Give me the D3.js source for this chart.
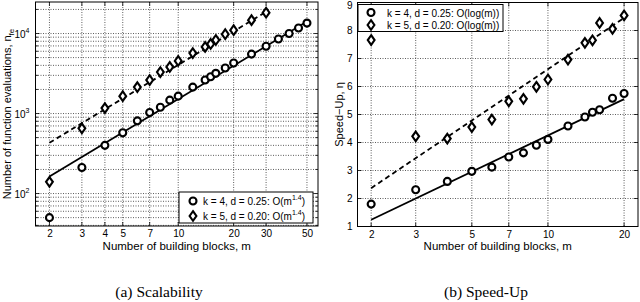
<!DOCTYPE html>
<html><head><meta charset="utf-8">
<script src="https://cdn.jsdelivr.net/npm/d3@7"></script>
<style>
body{margin:0;background:#fff;}
svg{display:block;}
text{font-family:"Liberation Sans",Arial,Helvetica,sans-serif;fill:#000;}
.cap{font-family:"Liberation Serif","DejaVu Serif",serif;}
</style></head>
<body>
<svg id="c" width="640" height="302"></svg>
<script>
// ---------- data ----------
const mScalA = [2,3,4,5,6,7,8,9,10,12,14,15,16,18,20,25,30,35,40,45,50];
const nfeA   = [50,212,400,575,810,1030,1200,1470,1650,2140,2620,2880,3180,3700,4280,5530,6940,8540,10000,11700,13500];
const mScalB = [2,3,4,5,6,7,8,9,10,12,14,15,16,18,20,25,30];
const nfeB   = [140,653,1170,1650,2140,2620,3300,3820,4540,5700,6800,7400,8300,9800,11000,14700,18200];
const fitScalA_m = [2,50], fitScalA_v = [163,14100];
const fitScalB_m = [2,30], fitScalB_v = [431,18700];

const mSpeed = [2,3,4,5,6,7,8,9,10,12,14,15,16,18,20];
const speedA = [1.80,2.31,2.61,2.97,3.12,3.48,3.63,3.90,4.11,4.59,4.91,5.08,5.17,5.58,5.75];
const speedB = [7.66,4.22,4.14,4.55,4.82,5.47,5.56,5.99,6.25,6.96,7.56,7.65,8.27,8.06,8.54];
const fitSpeedA_m = [2,20], fitSpeedA_v = [1.24,5.55];
const fitSpeedB_m = [2,20], fitSpeedB_v = [2.37,8.45];

const xTicksScal = [2,3,4,5,7,10,20,30,50];
const xTicksSpeed = [2,3,5,7,10,20];
const yTicksSpeed = [1,2,3,4,5,6,7,8,9];
const yDecades = [2,3,4];

const legendScal = ["k = 4, d = 0.25: O(m", "k = 5, d = 0.20: O(m"];
const legendScalExp = "1.4";
const legendSpeed = ["k = 4, d = 0.25: O(log(m))", "k = 5, d = 0.20: O(log(m))"];

// ---------- drawing ----------
const svg = d3.select("#c");

function gridLine(g, x1,y1,x2,y2){
  g.append("line").attr("x1",x1).attr("y1",y1).attr("x2",x2).attr("y2",y2)
   .attr("stroke","#333").attr("stroke-width",0.8).attr("stroke-dasharray","1,1.5");
}
function tickLine(g,x1,y1,x2,y2){
  g.append("line").attr("x1",x1).attr("y1",y1).attr("x2",x2).attr("y2",y2)
   .attr("stroke","#000").attr("stroke-width",0.8);
}
function circleMark(g, x, y){
  g.append("circle").attr("cx",x).attr("cy",y).attr("r",3.5)
   .attr("fill","#fff").attr("stroke","#000").attr("stroke-width",2.1);
}
function diamondMark(g, x, y){
  g.append("path").attr("d",`M${x},${y-4.8}L${x+3.4},${y}L${x},${y+4.8}L${x-3.4},${y}Z`)
   .attr("fill","#fff").attr("stroke","#000").attr("stroke-width",2.1);
}

// ===== Panel (a) =====
(function(){
  const X0=35.5, X1=318, Y0=2, Y1=226;
  const x = d3.scaleLog().domain([1.68,57.4]).range([X0,X1]);
  const y = d3.scaleLog().domain([39.3,24770]).range([Y1,Y0]);
  const g = svg.append("g");
  g.append("rect").attr("x",X0).attr("y",Y0).attr("width",X1-X0).attr("height",Y1-Y0).attr("fill","#fff");
  // grid
  xTicksScal.forEach(t=>gridLine(g,x(t),Y0,x(t),Y1));
  const yMinor=[];
  [10,100,1000,10000].forEach(d=>{for(let k=1;k<10;k++){const v=d*k; if(v>39.3&&v<24770) yMinor.push(v);}});
  yMinor.forEach(v=>gridLine(g,X0,y(v),X1,y(v)));
  // ticks
  xTicksScal.forEach(t=>{tickLine(g,x(t),Y1,x(t),Y1-4);tickLine(g,x(t),Y0,x(t),Y0+4);});
  yMinor.forEach(v=>{const major = Math.abs(Math.log10(v)-Math.round(Math.log10(v)))<1e-9; const L=major?4:2.5;
    tickLine(g,X0,y(v),X0+L,y(v)); tickLine(g,X1,y(v),X1-L,y(v));});
  // tick labels
  const axX = d3.axisBottom(x).tickValues(xTicksScal).tickFormat(d3.format("d")).tickSize(0).tickPadding(4);
  const ax = g.append("g").attr("transform",`translate(0,${Y1})`).call(axX);
  ax.select(".domain").remove();
  ax.selectAll("text").attr("font-size",10).attr("font-family","Liberation Sans, Arial, sans-serif");
  yDecades.forEach(e=>{
    const t=g.append("text").attr("x",X0-6).attr("y",y(Math.pow(10,e))+4).attr("text-anchor","end").attr("font-size",10);
    t.append("tspan").text("10");
    t.append("tspan").attr("font-size",7).attr("dy",-5).text(e);
  });
  // fit lines
  const ln = d3.line().x(d=>x(d[0])).y(d=>y(d[1]));
  g.append("path").attr("d",ln(d3.zip(fitScalA_m,fitScalA_v))).attr("fill","none").attr("stroke","#000").attr("stroke-width",1.8);
  g.append("path").attr("d",ln(d3.zip(fitScalB_m,fitScalB_v))).attr("fill","none").attr("stroke","#000").attr("stroke-width",1.8).attr("stroke-dasharray","5,3.5");
  // markers
  mScalA.forEach((m,i)=>circleMark(g,x(m),y(nfeA[i])));
  mScalB.forEach((m,i)=>diamondMark(g,x(m),y(nfeB[i])));
  // frame
  g.append("rect").attr("x",X0).attr("y",Y0).attr("width",X1-X0).attr("height",Y1-Y0).attr("fill","none").attr("stroke","#000").attr("stroke-width",1);
  // legend
  const LX=179, LY=192, LW=134, LH=31;
  g.append("rect").attr("x",LX).attr("y",LY).attr("width",LW).attr("height",LH).attr("fill","#fff").attr("stroke","#000").attr("stroke-width",1);
  circleMark(g,LX+14,LY+9);
  diamondMark(g,LX+14,LY+24);
  legendScal.forEach((s,i)=>{
    const t=g.append("text").attr("x",LX+24).attr("y",LY+13+i*15).attr("font-size",10);
    t.append("tspan").text(s);
    t.append("tspan").attr("font-size",7).attr("dy",-5).text(legendScalExp);
    t.append("tspan").attr("dy",5).text(")");
  });
  // axis titles
  g.append("text").attr("x",(X0+X1)/2).attr("y",250).attr("text-anchor","middle").attr("font-size",11.5).text("Number of building blocks, m");
  const yl=g.append("text").attr("transform",`translate(11,${(Y0+Y1)/2}) rotate(-90)`).attr("text-anchor","middle").attr("font-size",11);
  yl.append("tspan").text("Number of function evaluations, n");
  yl.append("tspan").attr("font-size",8).attr("dy",3).text("fe");
  g.append("text").attr("class","cap").attr("x",159).attr("y",297).attr("text-anchor","middle").attr("font-size",15.5).text("(a) Scalability");
})();

// ===== Panel (b) =====
(function(){
  const X0=357.5, X1=638, Y0=2.5, Y1=226.5;
  const x = d3.scaleLog().domain([1.766,22.7]).range([X0,X1]);
  const y = d3.scaleLinear().domain([1,9]).range([Y1,Y0]);
  const g = svg.append("g");
  g.append("rect").attr("x",X0).attr("y",Y0).attr("width",X1-X0).attr("height",Y1-Y0).attr("fill","#fff");
  xTicksSpeed.forEach(t=>gridLine(g,x(t),Y0,x(t),Y1));
  yTicksSpeed.slice(1,-1).forEach(v=>gridLine(g,X0,y(v),X1,y(v)));
  xTicksSpeed.forEach(t=>{tickLine(g,x(t),Y1,x(t),Y1-4);tickLine(g,x(t),Y0,x(t),Y0+4);});
  yTicksSpeed.forEach(v=>{tickLine(g,X0,y(v),X0+4,y(v));tickLine(g,X1,y(v),X1-4,y(v));});
  const axX = d3.axisBottom(x).tickValues(xTicksSpeed).tickFormat(d3.format("d")).tickSize(0).tickPadding(4);
  const ax = g.append("g").attr("transform",`translate(0,${Y1})`).call(axX);
  ax.select(".domain").remove();
  ax.selectAll("text").attr("font-size",10).attr("font-family","Liberation Sans, Arial, sans-serif");
  const axY = d3.axisLeft(y).tickValues(yTicksSpeed).tickFormat(d3.format("d")).tickSize(0).tickPadding(5);
  const ay = g.append("g").attr("transform",`translate(${X0},0)`).call(axY);
  ay.select(".domain").remove();
  ay.selectAll("text").attr("font-size",10).attr("font-family","Liberation Sans, Arial, sans-serif");
  ay.selectAll(".tick").filter(d=>d===9).select("text").attr("dy","0.6em");
  const ln = d3.line().x(d=>x(d[0])).y(d=>y(d[1]));
  g.append("path").attr("d",ln(d3.zip(fitSpeedA_m,fitSpeedA_v))).attr("fill","none").attr("stroke","#000").attr("stroke-width",1.8);
  g.append("path").attr("d",ln(d3.zip(fitSpeedB_m,fitSpeedB_v))).attr("fill","none").attr("stroke","#000").attr("stroke-width",1.8).attr("stroke-dasharray","5,3.5");
  mSpeed.forEach((m,i)=>circleMark(g,x(m),y(speedA[i])));
  mSpeed.forEach((m,i)=>diamondMark(g,x(m),y(speedB[i])));
  g.append("rect").attr("x",X0).attr("y",Y0).attr("width",X1-X0).attr("height",Y1-Y0).attr("fill","none").attr("stroke","#000").attr("stroke-width",1);
  const LX=358, LY=4.5, LW=145, LH=27;
  g.append("rect").attr("x",LX).attr("y",LY).attr("width",LW).attr("height",LH).attr("fill","#fff").attr("stroke","#000").attr("stroke-width",1);
  circleMark(g,LX+13,LY+8);
  diamondMark(g,LX+13,LY+20.5);
  legendSpeed.forEach((s,i)=>{
    g.append("text").attr("x",LX+29).attr("y",LY+12+i*12.5).attr("font-size",10).text(s);
  });
  g.append("text").attr("x",(X0+X1)/2).attr("y",250).attr("text-anchor","middle").attr("font-size",11.5).text("Number of building blocks, m");
  g.append("text").attr("transform",`translate(343,${(Y0+Y1)/2}) rotate(-90)`).attr("text-anchor","middle").attr("font-size",11).text("Speed\u2212Up, \u03B7");
  g.append("text").attr("class","cap").attr("x",486).attr("y",297).attr("text-anchor","middle").attr("font-size",15.5).text("(b) Speed-Up");
})();
</script>
</body></html>
